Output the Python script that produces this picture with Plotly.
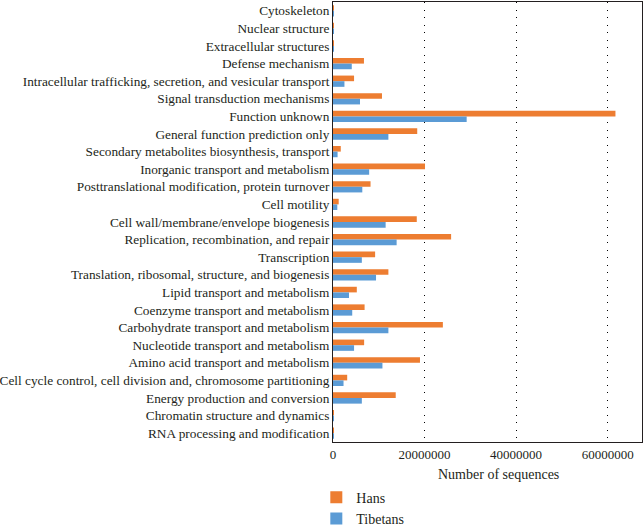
import plotly.graph_objects as go

# COG categories, top to bottom as shown
categories = [
    "Cytoskeleton",
    "Nuclear structure",
    "Extracellular structures",
    "Defense mechanism",
    "Intracellular trafficking, secretion, and vesicular transport",
    "Signal transduction mechanisms",
    "Function unknown",
    "General function prediction only",
    "Secondary metabolites biosynthesis, transport",
    "Inorganic transport and metabolism",
    "Posttranslational modification, protein turnover",
    "Cell motility",
    "Cell wall/membrane/envelope biogenesis",
    "Replication, recombination, and repair",
    "Transcription",
    "Translation, ribosomal, structure, and biogenesis",
    "Lipid transport and metabolism",
    "Coenzyme transport and metabolism",
    "Carbohydrate transport and metabolism",
    "Nucleotide transport and metabolism",
    "Amino acid transport and metabolism",
    "Cell cycle control, cell division and, chromosome partitioning",
    "Energy production and conversion",
    "Chromatin structure and dynamics",
    "RNA processing and modification",
]

hans = [
    60000, 20000, 100000, 6760000, 4600000, 10700000, 61700000, 18400000,
    1700000, 20100000, 8200000, 1240000, 18300000, 25800000, 9200000,
    12100000, 5200000, 6900000, 24000000, 6800000, 19000000, 3100000,
    13700000, 100000, 80000,
]
tibetans = [
    40000, 10000, 70000, 4100000, 2500000, 5900000, 29200000, 12100000,
    1000000, 7900000, 6400000, 940000, 11500000, 13900000, 6300000,
    9400000, 3500000, 4200000, 12100000, 4600000, 10800000, 2300000,
    6300000, 60000, 50000,
]

tick_vals = [0, 20000000, 40000000, 60000000]

fig = go.Figure()
fig.add_trace(go.Bar(y=categories, x=hans, name="Hans", orientation="h",
                     marker=dict(color="#ED7D31", line=dict(width=0))))
fig.add_trace(go.Bar(y=categories, x=tibetans, name="Tibetans", orientation="h",
                     marker=dict(color="#5B9BD5", line=dict(width=0))))

font = "Liberation Serif"
ink = "#231f20"
fig.update_layout(
    width=643, height=532,
    margin=dict(l=333, r=1, t=2, b=90, autoexpand=False),
    barmode="group", bargap=0.36, bargroupgap=0,
    plot_bgcolor="white", paper_bgcolor="white",
    font=dict(family=font, size=13, color=ink),
    showlegend=True,
    legend=dict(x=-0.054, xanchor="left", y=-0.09, yanchor="top",
                orientation="v", font=dict(family=font, size=14, color=ink),
                tracegroupgap=0, itemwidth=30, bgcolor="rgba(0,0,0,0)"),
    xaxis=dict(
        range=[0, 67500000], tickvals=tick_vals, tickformat="d",
        showgrid=True, gridcolor="black", griddash="1px,6.5px", gridwidth=1,
        zeroline=False, showline=True, linecolor=ink, linewidth=1,
        mirror=True, ticks="", automargin=False,
        tickfont=dict(family=font, size=13, color=ink),
    ),
    yaxis=dict(
        autorange="reversed", showline=True, linecolor=ink,
        linewidth=1, mirror=True, ticks="", showgrid=False, automargin=False,
        tickfont=dict(family=font, size=13.3, color=ink),
    ),
    annotations=[dict(
        text="Number of sequences", x=0.537, y=-0.073, xref="paper",
        yref="paper", xanchor="center", yanchor="middle", showarrow=False,
        font=dict(family=font, size=14, color=ink),
    )],
)

# drop the browser's default 8px body margin so the chart fills the window
fig.write_html("out.html", config={"displayModeBar": False},
               post_script="document.body.style.margin='0';")
